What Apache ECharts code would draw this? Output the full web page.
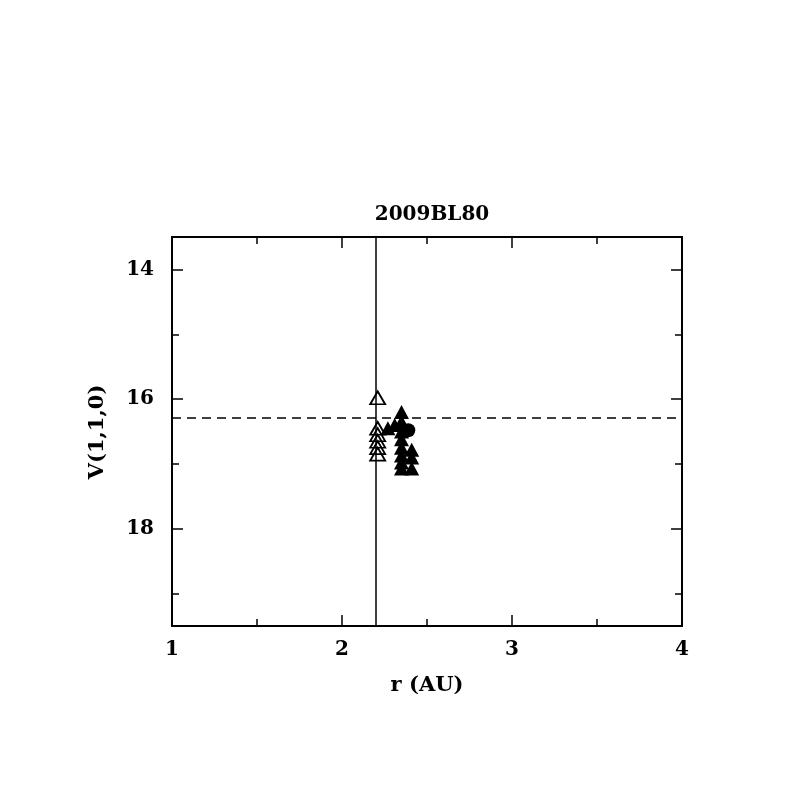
<!DOCTYPE html>
<html><head><meta charset="utf-8">
<script src="https://cdn.jsdelivr.net/npm/echarts@6/dist/echarts.min.js"></script>
<style>html,body{margin:0;padding:0;background:#fff}#c{width:797px;height:797px}</style>
</head><body><div id="c"></div>
<script>
const title = "2009BL80";
const xName = "r (AU)";
const yName = "V(1,1,0)";
const xMajor = [1, 2, 3, 4];
const xMinor = [1.5, 2.5, 3.5];
const yMajor = [14, 16, 18];
const yMinor = [15, 17, 19];
const refR = 2.2;
const refV = 16.29;
const openTri = [[2.21,15.98],[2.21,16.45],[2.21,16.55],[2.21,16.65],[2.21,16.75],[2.21,16.85]];
const filledTri = [[2.27,16.45],[2.31,16.4],[2.35,16.2],[2.35,16.35],[2.35,16.5],[2.35,16.62],[2.35,16.75],[2.35,16.87],[2.35,16.98],[2.35,17.07],[2.41,16.78],[2.41,16.9],[2.41,17.07]];
const filledCirc = [[2.39,16.48]];

const font = "DejaVu Serif";
const chart = echarts.init(document.getElementById('c'));
function xAx(pos, labels, ticks, len){
  return {type:'value', position:pos, min:1, max:4,
    axisLine:{show:true, onZero:false, lineStyle:{color:'#000', width:2}},
    axisTick:{show:true, inside:true, length:len, customValues:ticks, lineStyle:{color:'#000', width:1.5}},
    axisLabel:{show:labels, customValues:xMajor, color:'#000', fontFamily:font, fontSize:20, fontWeight:'bold', margin:14},
    splitLine:{show:false}};
}
function yAx(pos, labels, ticks, len){
  return {type:'value', position:pos, min:13.5, max:19.5, inverse:true,
    axisLine:{show:true, onZero:false, lineStyle:{color:'#000', width:2}},
    axisTick:{show:true, inside:true, length:len, customValues:ticks, lineStyle:{color:'#000', width:1.5}},
    axisLabel:{show:labels, customValues:yMajor, color:'#000', fontFamily:font, fontSize:20, fontWeight:'bold', margin:18},
    splitLine:{show:false}};
}
chart.setOption({
  animation:false,
  backgroundColor:'#fff',
  title:{text:title, left:427, top:200, textAlign:'center', textStyle:{fontFamily:font, fontSize:20, fontWeight:'bold', color:'#000'}},
  grid:{left:172, right:115, top:237, bottom:171},
  xAxis:[xAx('bottom', true, xMajor, 11), xAx('bottom', false, xMinor, 7), xAx('top', false, xMajor, 11), xAx('top', false, xMinor, 7)],
  yAxis:[yAx('left', true, yMajor, 11), yAx('left', false, yMinor, 7), yAx('right', false, yMajor, 11), yAx('right', false, yMinor, 7)],
  graphic:[
    {type:'text', x:427, y:675, style:{text:xName, textAlign:'center', fontFamily:font, fontSize:21, fontWeight:'bold', fill:'#000'}},
    {type:'text', x:98, y:432, rotation:Math.PI/2, style:{text:yName, textAlign:'center', textVerticalAlign:'middle', fontFamily:font, fontSize:21, fontWeight:'bold', fill:'#000'}}
  ],
  series:[
    {type:'scatter', data:[], markLine:{silent:true, symbol:'none', label:{show:false},
      data:[{xAxis:refR, lineStyle:{type:'solid', color:'#000', width:1.5}},
            {yAxis:refV, lineStyle:{type:[9,6], color:'#000', width:1.5}}]}},
    {type:'scatter', data:openTri, symbol:'triangle', symbolSize:[15,13],
      itemStyle:{color:'rgba(0,0,0,0)', borderColor:'#000', borderWidth:1.8, opacity:1}},
    {type:'scatter', data:filledTri, symbol:'triangle', symbolSize:[15,14],
      itemStyle:{color:'#000', opacity:1}},
    {type:'scatter', data:filledCirc, symbol:'circle', symbolSize:14,
      itemStyle:{color:'#000', opacity:1}}
  ]
});
</script></body></html>
